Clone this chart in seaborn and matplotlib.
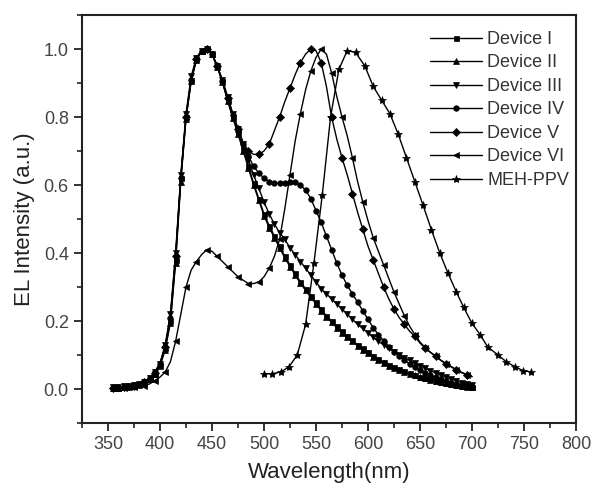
import matplotlib
matplotlib.use("Agg")
import matplotlib.pyplot as plt
import seaborn as sns
import pandas as pd
from matplotlib.ticker import MultipleLocator

# ---------------- data ----------------
wl_dev = [355, 360, 365, 370, 375, 380, 385, 390, 395, 400, 405, 410, 415, 420, 425, 430,
          435, 440, 445, 450, 455, 460, 465, 470, 475, 480, 485, 490, 495, 500, 505, 510,
          515, 520, 525, 530, 535, 540, 545, 550, 555, 560, 565, 570, 575, 580, 585, 590,
          595, 600, 605, 610, 615, 620, 625, 630, 635, 640, 645, 650, 655, 660, 665, 670,
          675, 680, 685, 690, 695, 700]

dev1 = [.003, .004, .006, .008, .010, .014, .020, .030, .045, .070, .120, .200, .380, .620, .800, .910,
        .970, .995, 1.00, .985, .950, .905, .850, .800, .755, .705, .655, .605, .560, .515, .480, .450,
        .420, .390, .365, .340, .315, .295, .275, .255, .235, .215, .200, .185, .170, .155, .143, .130,
        .120, .108, .098, .088, .079, .071, .064, .058, .052, .046, .041, .036, .032, .028, .025, .021,
        .018, .015, .012, .010, .008, .006]

dev2 = [.002, .004, .005, .007, .009, .013, .019, .029, .044, .068, .115, .195, .370, .610, .795, .905,
        .968, .993, 1.00, .984, .948, .902, .848, .797, .750, .700, .650, .600, .555, .510, .475, .445,
        .415, .386, .360, .335, .311, .290, .270, .250, .230, .211, .196, .180, .166, .152, .140, .127,
        .116, .105, .095, .086, .077, .069, .062, .056, .050, .045, .040, .035, .031, .027, .024, .020,
        .017, .014, .011, .009, .007, .005]

dev3 = [.005, .006, .008, .010, .012, .016, .022, .033, .050, .075, .130, .220, .400, .630, .810, .920,
        .975, .995, 1.00, .985, .950, .910, .860, .810, .765, .720, .675, .630, .590, .550, .515, .485,
        .460, .440, .415, .395, .375, .355, .335, .315, .295, .280, .265, .250, .235, .220, .205, .190,
        .178, .165, .152, .140, .130, .120, .110, .100, .092, .084, .076, .068, .061, .054, .047, .041,
        .035, .029, .024, .019, .015, .011]

dev4 = [.004, .005, .007, .009, .011, .015, .021, .032, .050, .075, .125, .210, .390, .620, .800, .910,
        .970, .995, 1.00, .985, .950, .905, .855, .805, .760, .720, .685, .655, .635, .620, .610, .605,
        .605, .605, .610, .610, .600, .585, .560, .525, .490, .450, .410, .370, .335, .305, .280, .255,
        .230, .205, .180, .160, .142, .125, .110, .097, .085, .074, .064, .055, .047, .040, .034, .028,
        .023, .019, .015, .012, .009, .007]

dev5 = [.004, .005, .006, .008, .010, .014, .020, .031, .048, .075, .125, .210, .390, .620, .800, .910,
        .970, .995, 1.00, .985, .950, .905, .855, .810, .765, .725, .700, .690, .690, .700, .720, .760,
        .800, .845, .885, .925, .960, .985, 1.00, .995, .960, .890, .800, .735, .680, .630, .575, .520,
        .470, .420, .380, .340, .300, .265, .235, .210, .190, .170, .155, .135, .120, .108, .097, .085,
        .075, .066, .057, .049, .042, .036]

dev6 = [.002, .003, .004, .005, .006, .008, .010, .015, .025, .035, .050, .080, .140, .220, .300, .350,
        .375, .395, .410, .405, .390, .375, .360, .345, .330, .320, .310, .310, .315, .330, .355, .390,
        .440, .530, .630, .730, .810, .880, .935, .975, 1.00, .985, .930, .860, .800, .745, .680, .610,
        .550, .495, .445, .405, .365, .325, .285, .250, .215, .185, .160, .138, .122, .108, .096, .084,
        .074, .065, .056, .048, .042, .037]

wl_meh = [500, 508, 516, 524, 532, 540, 548, 556, 564, 572, 580, 588, 597, 605, 613, 621, 629,
          637, 645, 653, 661, 669, 677, 685, 692, 700, 708, 715, 725, 733, 741, 749, 757]
meh = [.045, .045, .050, .065, .100, .190, .370, .570, .800, .940, .995, .990, .950, .890, .850,
       .810, .750, .680, .610, .540, .468, .400, .340, .285, .240, .193, .159, .124, .100, .080,
       .066, .054, .050]

labels = ["Device I", "Device II", "Device III", "Device IV", "Device V", "Device VI", "MEH-PPV"]

# ---------------- plotting ----------------
sns.set_theme(style="ticks")
plt.rcParams["font.family"] = ["Liberation Sans", "DejaVu Sans"]

fig = plt.figure(figsize=(5.93, 4.91), dpi=100)
ax = fig.add_axes([82 / 593, 1 - 423 / 491, (576 - 82) / 593, (423 - 15) / 491])

series = [
    (wl_dev, dev1, "s", 3.6, 1),
    (wl_dev, dev2, "^", 4.6, 1),
    (wl_dev, dev3, "v", 4.6, 1),
    (wl_dev, dev4, "o", 4.0, 1),
    (wl_dev, dev5, "D", 4.4, 2),
    (wl_dev, dev6, "<", 5.0, 2),
    (wl_meh, meh, "*", 6.0, 1),
]

for (xs, ys, mk, ms, me), lab in zip(series, labels):
    df = pd.DataFrame({"x": xs, "y": ys})
    sns.lineplot(data=df, x="x", y="y", ax=ax, color="black", lw=1.0,
                 marker=mk, markersize=ms, markeredgewidth=0.5,
                 markeredgecolor="black", markerfacecolor="black",
                 markevery=me, label=lab, legend=False)

ax.set_xlim(325, 800)
ax.set_ylim(-0.1, 1.1)
ax.xaxis.set_major_locator(MultipleLocator(50))
ax.xaxis.set_minor_locator(MultipleLocator(25))
ax.yaxis.set_major_locator(MultipleLocator(0.2))
ax.yaxis.set_minor_locator(MultipleLocator(0.1))
ax.set_yticks([0.0, 0.2, 0.4, 0.6, 0.8, 1.0])
ax.set_yticklabels(["0.0", "0.2", "0.4", "0.6", "0.8", "1.0"])

for s in ax.spines.values():
    s.set_linewidth(1.5)
    s.set_color("#222222")

ax.tick_params(axis="both", which="major", direction="out", length=6, width=1.3,
               labelsize=13, labelcolor="#444444", color="#222222",
               top=False, right=False)
ax.tick_params(axis="both", which="minor", direction="out", length=3.5, width=1.2,
               color="#222222", top=False, right=False)

ax.set_xlabel("Wavelength(nm)", fontsize=16, color="#222222", labelpad=6)
ax.set_ylabel("EL Intensity (a.u.)", fontsize=16, color="#222222", labelpad=6)

leg = ax.legend(loc="upper right", bbox_to_anchor=(1.012, 0.992), frameon=False,
                fontsize=13, handlelength=2.9, handletextpad=0.3, labelspacing=0.36,
                borderaxespad=0.3)
for t in leg.get_texts():
    t.set_color("#333333")

fig.savefig("out.png", dpi=100)
